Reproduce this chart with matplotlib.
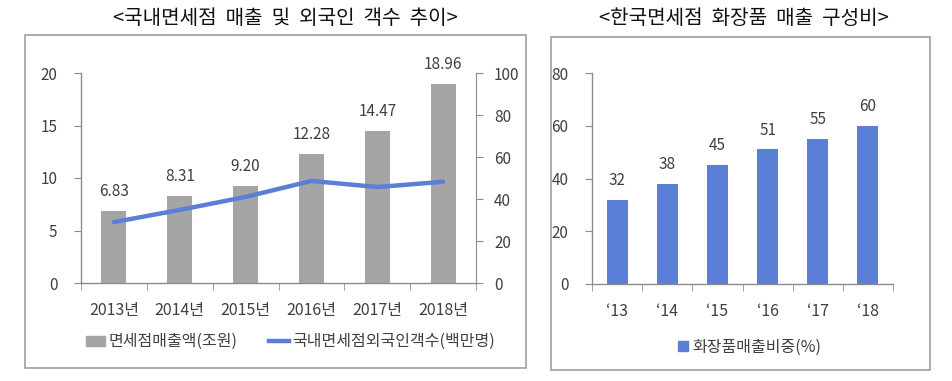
import matplotlib
matplotlib.use("Agg")
import matplotlib.pyplot as plt
from matplotlib.patches import Rectangle
from matplotlib.lines import Line2D
from matplotlib.patches import Patch

plt.rcParams['font.family'] = ['Noto Sans CJK KR', 'DejaVu Sans']

# 왼쪽: 국내면세점 매출 및 외국인 객수
years = ['2013년', '2014년', '2015년', '2016년', '2017년', '2018년']
sales = [6.83, 8.31, 9.20, 12.28, 14.47, 18.96]
visitors = [29.0, 34.8, 41.0, 48.6, 45.7, 48.2]

# 오른쪽: 화장품 매출 구성비
short_years = ['\u201813', '\u201814', '\u201815', '\u201816', '\u201817', '\u201818']
cosmetics = [32, 38, 45, 51, 55, 60]

GRAY = '#a5a5a5'
BLUE = '#5b7fd6'
AXIS = '#8c8c8c'
TXT = '#404040'

fig = plt.figure(figsize=(9.52, 3.81), dpi=100)

# panel frames
fig.patches.append(Rectangle((25 / 952, 1 - 368 / 381), 501 / 952, 333 / 381,
                             transform=fig.transFigure, fill=False, ec='#a0a0a0', lw=1.2))
fig.patches.append(Rectangle((551 / 952, 1 - 370 / 381), 379 / 952, 333 / 381,
                             transform=fig.transFigure, fill=False, ec='#a0a0a0', lw=1.2))

fig.text(285 / 952, 1 - 18 / 381, '<국내면세점  매출  및  외국인  객수  추이>',
         ha='center', va='center', fontsize=14.5, color='#111111')
fig.text(744 / 952, 1 - 18 / 381, '<한국면세점  화장품  매출  구성비>',
         ha='center', va='center', fontsize=14.5, color='#111111')


def style(ax):
    ax.spines['top'].set_visible(False)
    for s in ['left', 'right', 'bottom']:
        ax.spines[s].set_color(AXIS)
        ax.spines[s].set_linewidth(1.0)
    ax.set_xlim(-0.5, 5.5)
    ax.set_xticks(range(6))
    ax.set_xticks([i - 0.5 for i in range(7)], minor=True)
    ax.tick_params(axis='x', which='major', length=0, pad=14, labelsize=11.5, labelcolor=TXT)
    ax.tick_params(axis='x', which='minor', length=5, color=AXIS, direction='out')
    ax.tick_params(axis='y', length=5, color=AXIS, labelsize=11, labelcolor=TXT, pad=12)


# left chart
ax1 = fig.add_axes([81 / 952, 1 - 283 / 381, 395 / 952, 210 / 381])
x = range(len(years))
ax1.bar(x, sales, width=0.38, color=GRAY, zorder=2)
ax1.set_ylim(0, 20)
ax1.set_yticks(range(0, 21, 5))
style(ax1)
ax1.spines['right'].set_visible(False)
ax1.set_xticklabels(years)
for xi, v in zip(x, sales):
    ax1.annotate(f'{v:.2f}', (xi, v), xytext=(0, 14), textcoords='offset points',
                 ha='center', va='center', fontsize=11, color=TXT)

ax2 = ax1.twinx()
ax2.plot(x, visitors, color=BLUE, lw=3.2, solid_capstyle='round', zorder=3)
ax2.set_ylim(0, 100)
ax2.set_yticks(range(0, 101, 20))
ax2.spines['top'].set_visible(False)
ax2.spines['left'].set_visible(False)
ax2.spines['bottom'].set_visible(False)
ax2.spines['right'].set_color(AXIS)
ax2.tick_params(axis='y', length=5, color=AXIS, labelsize=11, labelcolor=TXT, pad=8)

handles = [Patch(color=GRAY), Line2D([], [], color=BLUE, lw=3.2)]
ax1.legend(handles, ['면세점매출액(조원)', '국내면세점외국인객수(백만명)'],
           loc='center', bbox_to_anchor=(0.53, -0.28), ncol=2, frameon=False,
           fontsize=11.5, handlelength=1.2, handleheight=0.6, handletextpad=0.2,
           columnspacing=2.0, labelcolor=TXT)

# right chart
ax3 = fig.add_axes([592 / 952, 1 - 284 / 381, 301 / 952, 211 / 381])
ax3.bar(range(len(short_years)), cosmetics, width=0.42, color=BLUE, zorder=2)
ax3.set_ylim(0, 80)
ax3.set_yticks(range(0, 81, 20))
style(ax3)
ax3.spines['right'].set_visible(False)
ax3.set_xticklabels(short_years)
for xi, v in enumerate(cosmetics):
    ax3.annotate(f'{v}', (xi, v), xytext=(0, 14), textcoords='offset points',
                 ha='center', va='center', fontsize=11, color=TXT)
ax3.legend([Patch(color=BLUE)], ['화장품매출비중(%)'],
           loc='center', bbox_to_anchor=(0.525, -0.30), frameon=False,
           fontsize=11.5, handlelength=0.6, handleheight=0.6, handletextpad=0.3,
           labelcolor=TXT)

fig.savefig('out.png', dpi=100)
